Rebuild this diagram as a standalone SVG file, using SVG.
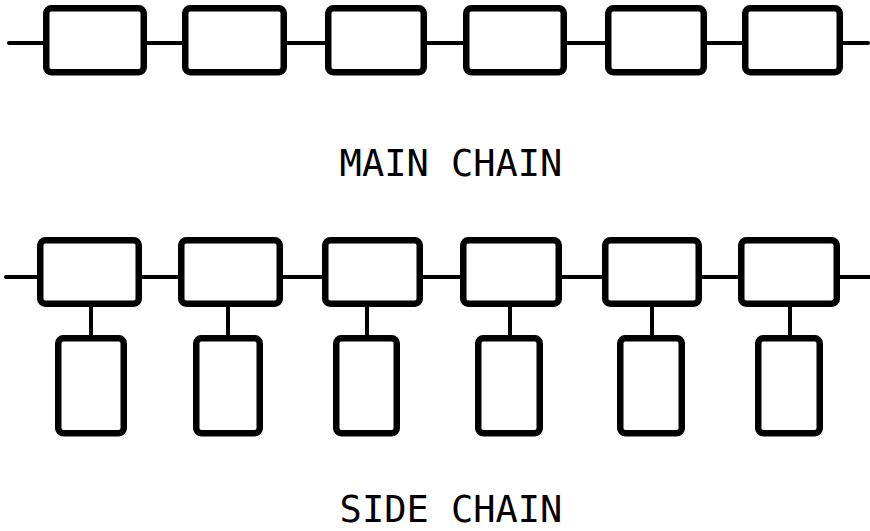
<svg xmlns="http://www.w3.org/2000/svg" width="870" height="531" viewBox="0 0 870 531">
  <style>
    .box { fill: #fff; stroke: #000; stroke-width: 6.5; }
    .link { fill: none; stroke: #000; stroke-width: 4; stroke-linecap: round; }
    .label { font-family: "DejaVu Sans Mono", "Liberation Mono", monospace; font-size: 37px; fill: #000; text-anchor: middle; }
  </style>
  <rect width="870" height="531" fill="#fff"/>

  <!-- connectors -->
  <g id="connectors">
    <!-- main chain backbone -->
    <line class="link" x1="9" y1="43" x2="868" y2="43"/>
    <!-- side chain backbone -->
    <line class="link" x1="6" y1="277" x2="870" y2="277"/>
    <!-- side chain stems -->
    <line class="link" x1="91" y1="307" x2="91" y2="336"/>
    <line class="link" x1="228" y1="307" x2="228" y2="336"/>
    <line class="link" x1="367" y1="307" x2="367" y2="336"/>
    <line class="link" x1="510" y1="307" x2="510" y2="336"/>
    <line class="link" x1="652" y1="307" x2="652" y2="336"/>
    <line class="link" x1="790" y1="307" x2="790" y2="336"/>
  </g>

  <!-- main chain units -->
  <g id="main-1"><rect class="box" x="46.25" y="8.25" width="97.5" height="64" rx="5"/></g>
  <g id="main-2"><rect class="box" x="185.25" y="8.25" width="98.5" height="64" rx="5"/></g>
  <g id="main-3"><rect class="box" x="328.25" y="8.25" width="95.5" height="64" rx="5"/></g>
  <g id="main-4"><rect class="box" x="466.25" y="8.25" width="97.5" height="64" rx="5"/></g>
  <g id="main-5"><rect class="box" x="608.25" y="8.25" width="95.5" height="64" rx="5"/></g>
  <g id="main-6"><rect class="box" x="745.25" y="8.25" width="94.5" height="64" rx="5"/></g>

  <text id="main-label" class="label" x="451" y="176">MAIN CHAIN</text>

  <!-- side chain backbone units -->
  <g id="side-1"><rect class="box" x="40.25" y="240.25" width="98.5" height="63.5" rx="5"/></g>
  <g id="side-2"><rect class="box" x="181.25" y="240.25" width="98.5" height="63.5" rx="5"/></g>
  <g id="side-3"><rect class="box" x="325.25" y="240.25" width="94.5" height="63.5" rx="5"/></g>
  <g id="side-4"><rect class="box" x="463.25" y="240.25" width="95.5" height="63.5" rx="5"/></g>
  <g id="side-5"><rect class="box" x="605.25" y="240.25" width="93.5" height="63.5" rx="5"/></g>
  <g id="side-6"><rect class="box" x="741.25" y="240.25" width="95.5" height="63.5" rx="5"/></g>

  <!-- pendant groups -->
  <g id="pendant-1"><rect class="box" x="58.25" y="338.25" width="65.5" height="95" rx="5"/></g>
  <g id="pendant-2"><rect class="box" x="196.25" y="338.25" width="63.5" height="95" rx="5"/></g>
  <g id="pendant-3"><rect class="box" x="336.25" y="338.25" width="60.5" height="95" rx="5"/></g>
  <g id="pendant-4"><rect class="box" x="478.25" y="338.25" width="61.5" height="95" rx="5"/></g>
  <g id="pendant-5"><rect class="box" x="620.25" y="338.25" width="61.5" height="95" rx="5"/></g>
  <g id="pendant-6"><rect class="box" x="758.25" y="338.25" width="61.5" height="95" rx="5"/></g>

  <text id="side-label" class="label" x="451" y="522">SIDE CHAIN</text>
</svg>
